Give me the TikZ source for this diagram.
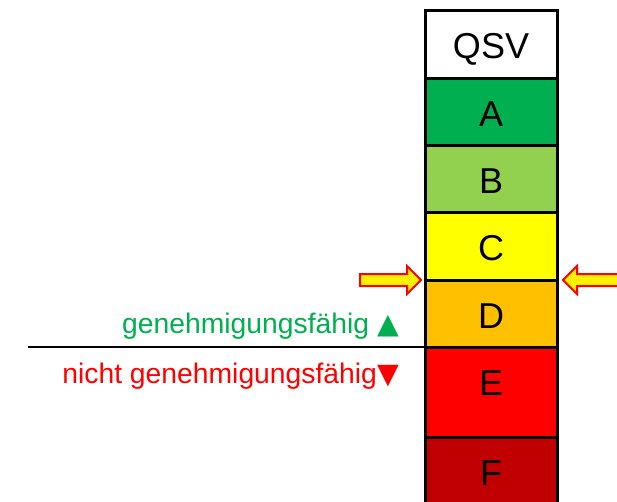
\documentclass[tikz,border=0pt]{standalone}
\usepackage{fontspec}
\setmainfont{Liberation Sans}
\newfontfamily\symfont{DejaVu Sans}
\definecolor{qA}{HTML}{00B050}
\definecolor{qB}{HTML}{92D050}
\definecolor{qC}{HTML}{FFFF00}
\definecolor{qD}{HTML}{FFC000}
\definecolor{qE}{HTML}{FF0000}
\definecolor{qF}{HTML}{C00000}
\definecolor{okgreen}{HTML}{00B050}
\begin{document}
\begin{tikzpicture}[x=1pt,y=-1pt,
  cell/.style={draw=black, line width=3pt, minimum width=132pt, inner sep=0pt,
    outer sep=0pt, font=\fontsize{36}{40}\selectfont, text depth=0pt},
  arrowmark/.style={line width=2pt, draw=red, fill=yellow, line join=miter},
  lbl/.style={font=\fontsize{28.3}{32}\selectfont, inner sep=0pt, anchor=base east}]
\useasboundingbox (0,0) rectangle (617,501);
\clip (0,0) rectangle (617,501);
\fill[white] (0,0) rectangle (617,501);
\node[cell, fill=white, minimum height=68pt, text height=28pt] (qsv) at (491,44) {QSV};
\node[cell, fill=qA, minimum height=67pt, text height=29pt] (a) at (491,111.5) {A};
\node[cell, fill=qB, minimum height=67pt, text height=29pt] (b) at (491,178.5) {B};
\node[cell, fill=qC, minimum height=68pt, text height=28pt] (c) at (491,246) {C};
\node[cell, fill=qD, minimum height=67pt, text height=29pt] (d) at (491,313.5) {D};
\node[cell, fill=qE, minimum height=90pt, text height=7pt] (e) at (491,392) {E};
\node[cell, fill=qF, minimum height=70pt, text height=26pt] (f) at (491,472) {F};
\coordinate (hl) at (28,347);
\draw[line width=2.5pt] (hl) -- (e.north west);
\node[lbl, text=okgreen] (ok) at (399,333) {genehmigungsfähig {\symfont▲}};
\node[lbl, text=red] (nok) at (399,383) {nicht genehmigungsfähig{\symfont▼}};
\draw[arrowmark] (360,274) -- (407,274) -- (407,266) -- (421,280) -- (407,294) -- (407,286) -- (360,286) -- cycle;
\draw[arrowmark] (625,274) -- (577,274) -- (577,266) -- (563,280) -- (577,294) -- (577,286) -- (625,286) -- cycle;
\end{tikzpicture}
\end{document}
